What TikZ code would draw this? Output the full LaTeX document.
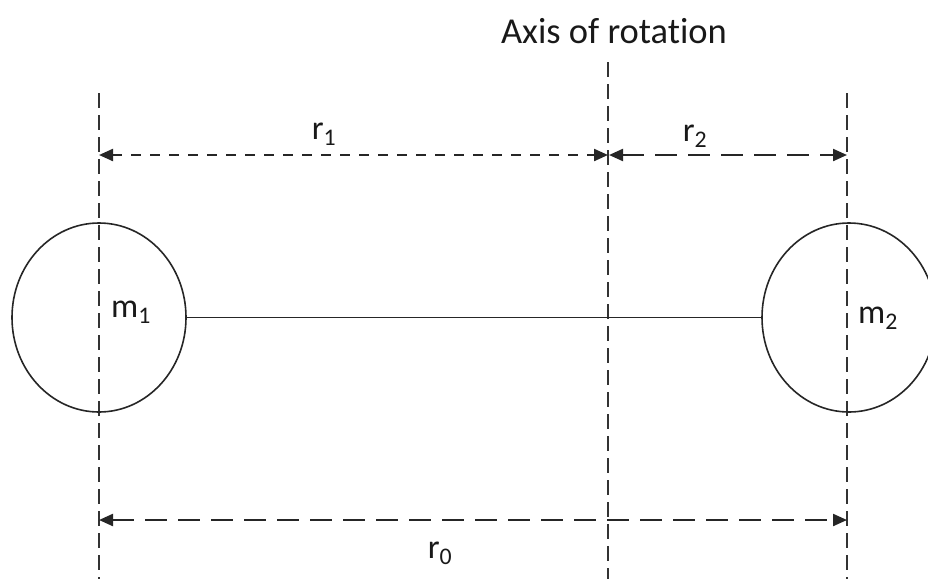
\documentclass[tikz,border=0pt]{standalone}
\usepackage{fontspec}
\setmainfont{Carlito}[Ligatures=NoCommon]
\usetikzlibrary{arrows.meta,shapes.geometric}
\begin{document}
\begin{tikzpicture}[x=1pt,y=-1pt,
  vdash/.style={line width=2pt,dash pattern=on 15pt off 7pt,color=black!80},
  shortdim/.style={line width=2.2pt,dash pattern=on 10pt off 9pt,color=black!85,{Triangle[length=14pt,width=12pt]}-{Triangle[length=14pt,width=12pt]}},
  longdim/.style={line width=2.2pt,dash pattern=on 22pt off 11pt,color=black!85,{Triangle[length=14pt,width=12pt]}-{Triangle[length=14pt,width=12pt]}},
  mass/.style={draw,ellipse,line width=1.6pt,minimum width=174pt,minimum height=189pt,inner sep=0pt,color=black!85},
  lbl/.style={anchor=base,inner sep=0pt,font=\fontsize{34}{40}\selectfont,text=black!90},
]
\useasboundingbox (0,0) rectangle (928,579);
\clip (0,0) rectangle (928,579);
% vertical guide lines
\coordinate (Lt) at (99,93);
\coordinate (Lb) at (99,579);
\coordinate (At) at (608,62);
\coordinate (Ab) at (608,579);
\coordinate (Rt) at (847,93);
\coordinate (Rb) at (847,579);
\draw[vdash] (Lt) -- (Lb);
\draw[vdash] (At) -- (Ab);
\draw[vdash] (Rt) -- (Rb);
% masses
\node[mass] (m1c) at (99,317.5) {};
\node[mass] (m2c) at (849,317.5) {};
\draw[line width=1.6pt,color=black!85] (m1c.east) -- (m2c.west);
% dimension lines
\coordinate (L1) at (99,155);
\coordinate (A1) at (608,155);
\coordinate (A2) at (609,155);
\coordinate (R1) at (847,155);
\coordinate (L0) at (99,520);
\coordinate (R0) at (847,520);
\draw[shortdim] (L1) -- (A1);
\draw[longdim] (A2) -- (R1);
\draw[longdim] (L0) -- (R0);
% labels
\node[lbl,font=\fontsize{36.5}{42}\selectfont] (axis) at (614,43) {Axis of rotation};
\node[lbl] (r1) at (324,139) {r\textsubscript{1}};
\node[lbl] (r2) at (695,141) {r\textsubscript{2}};
\node[lbl] (r0) at (440,558) {r\textsubscript{0}};
\node[lbl] (m1) at (131,317) {m\textsubscript{1}};
\node[lbl] (m2) at (878,323) {m\textsubscript{2}};
\end{tikzpicture}
\end{document}
